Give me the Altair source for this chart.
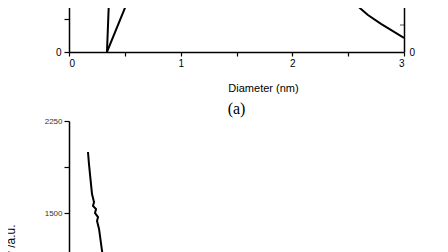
import altair as alt
import pandas as pd

# ---- top panel (a) data ----
a_left_x = [0.340, 0.358, 0.360]
a_left_y = [0.0, 0.788, 1.10]
b_left_x = [0.340, 0.530, 0.605]
b_left_y = [0.0, 0.788, 1.09]
r_x = [2.43, 2.525, 2.615, 2.677, 2.794, 3.0]
r_y = [26.7, 19.3, 15.9, 13.7, 10.4, 5.2]

# ---- bottom panel data ----
bot_x = [0.170, 0.179, 0.197, 0.206, 0.224, 0.215, 0.242, 0.233, 0.260, 0.251, 0.269, 0.296, 0.322]
bot_y = [1997, 1899, 1736, 1655, 1590, 1557, 1533, 1500, 1467, 1435, 1370, 1190, 1043]

FONT = "Liberation Sans"
W = 335
TOP_H = 72

dfl = pd.DataFrame({"x": a_left_x + b_left_x, "y": a_left_y + b_left_y,
                    "s": ["A"] * 3 + ["B"] * 3})
dfr = pd.DataFrame({"x": r_x, "y": r_y})
dft = pd.DataFrame({"x": [3.0], "y": [10.0]})
dfb = pd.DataFrame({"x": bot_x, "y": bot_y, "o": list(range(len(bot_x)))})

xscale = alt.Scale(domain=[0, 3], nice=False)
xaxis = alt.Axis(values=[0, 0.5, 1, 1.5, 2, 2.5, 3], format="~g",
                 labelExpr="datum.value % 1 == 0 ? datum.label : ''",
                 title="Diameter (nm)", titleX=194, titleY=30, titleFontSize=11, titleFontWeight="normal",
                 labelFontSize=10, tickSize=4, labelPadding=2, grid=False)

left = alt.Chart(dfl).mark_line(color="black", strokeWidth=2, clip=True).encode(
    x=alt.X("x:Q", scale=xscale, axis=xaxis),
    y=alt.Y("y:Q", scale=alt.Scale(domain=[0, TOP_H / 66], nice=False, zero=True),
            axis=alt.Axis(values=[0, 0.5], labelExpr="datum.value == 0 ? '0' : ''", title=None,
                          tickSize=5, labelFontSize=10, labelPadding=3, grid=False, orient="left")),
    detail="s:N",
)
right = alt.Chart(dfr).mark_line(color="black", strokeWidth=2, clip=True).encode(
    x=alt.X("x:Q", scale=xscale, axis=xaxis),
    y=alt.Y("y:Q", scale=alt.Scale(domain=[0, TOP_H / 2.7], nice=False),
            axis=alt.Axis(values=[0, 20], format="d", title=None, tickSize=0, labelFontSize=10,
                          labelPadding=5, grid=False, orient="right")),
)
rtick = alt.Chart(dft).mark_tick(color="black", orient="horizontal", size=4, thickness=1, xOffset=-2).encode(
    x=alt.X("x:Q", scale=xscale),
    y=alt.Y("y:Q", scale=alt.Scale(domain=[0, TOP_H / 2.7], nice=False)),
)
top = alt.layer(left, alt.layer(right, rtick)).resolve_scale(y="independent").properties(
    width=W, height=TOP_H,
    title=alt.TitleParams("(a)", orient="bottom", font="Liberation Serif", fontSize=16,
                          fontWeight="normal", offset=8, anchor="middle"),
)

BOT_H = 276
bottom = alt.Chart(dfb).mark_line(color="black", strokeWidth=2, clip=True).encode(
    x=alt.X("x:Q", scale=xscale, axis=None),
    y=alt.Y("y:Q", scale=alt.Scale(domain=[0, 2250], nice=False),
            axis=alt.Axis(values=[1500, 1875, 2250], format="d",
                          labelExpr="datum.value == 1875 ? '' : datum.label",
                          title="Intensity /a.u.", titleAngle=-90, titleAlign="right", titleBaseline="bottom",
                          titleX=-52, titleY=103, titleFontSize=12, titleFontWeight="normal",
                          labelFontSize=8, labelColor="#333", tickSize=5, labelPadding=2, grid=False)),
    order="o:Q",
).properties(width=W, height=BOT_H)

chart = alt.vconcat(top, bottom, spacing=0).properties(
    padding={"top": -28, "left": -5, "right": 5, "bottom": 5}
).configure_view(stroke=None).configure_axis(
    labelFont=FONT, titleFont=FONT, labelColor="black", titleColor="black",
    domainColor="black", tickColor="black", domainWidth=1.5, tickWidth=1.2,
)

chart.save("out.html", embed_options={"renderer": "svg", "actions": False})
